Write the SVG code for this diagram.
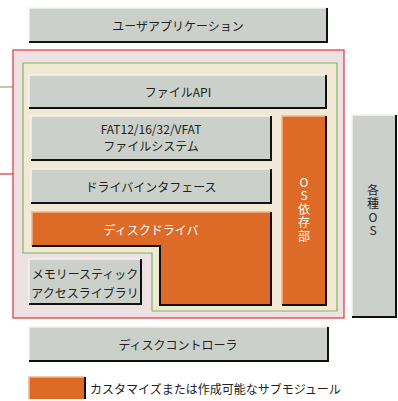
<svg xmlns="http://www.w3.org/2000/svg" width="398" height="401" viewBox="0 0 398 401">
<style>
text{font-family:"Noto Sans CJK JP","Noto Sans",sans-serif;font-size:12px;fill:#222;text-anchor:middle;dominant-baseline:central}
.w{fill:#fff}
.v{writing-mode:vertical-rl;text-orientation:upright;letter-spacing:1.5px}
.box{fill:#CCD0CA}
.org{fill:#DD6A26}
.hi{fill:none;stroke:#F2F2F0;stroke-width:1.5}
.hio{fill:none;stroke:#F2B58E;stroke-width:1.5}
.sh{fill:none;stroke:#111;stroke-width:2}
</style>
<rect width="398" height="401" fill="#fff"/>
<g id="connectors">
<line x1="0" y1="87" x2="23" y2="87" stroke="#7DB662" stroke-width="1.2"/>
<line x1="0" y1="174" x2="13" y2="174" stroke="#E0323C" stroke-width="1.2"/>
</g>
<g id="os-boundary">
<rect x="13" y="50" width="331" height="268" fill="#EFE1E3" stroke="#E0323C" stroke-width="1.2"/>
</g>
<g id="fs-boundary">
<path d="M23,63 H337 V311 H152 V253 H23 Z" fill="#F1E9D4" stroke="#7DB662" stroke-width="1.2"/>
</g>
<g id="user-app">
<rect class="box" x="29" y="8" width="298" height="34"/>
<path class="hi" d="M29,42 V8 H327"/>
<path class="sh" d="M29,42 H327 V8"/>
<text x="178" y="25">ユーザアプリケーション</text>
</g>
<g id="file-api">
<rect class="box" x="29" y="75" width="297" height="33"/>
<path class="hi" d="M29,108 V75 H326"/>
<path class="sh" d="M29,108 H326 V75"/>
<text x="178" y="91">ファイルAPI</text>
</g>
<g id="fat-fs">
<rect class="box" x="31" y="116" width="240" height="44"/>
<path class="hi" d="M31,160 V116 H271"/>
<path class="sh" d="M31,160 H271 V116"/>
<text x="151" y="128">FAT12/16/32/VFAT</text>
<text x="151" y="145">ファイルシステム</text>
</g>
<g id="driver-if">
<rect class="box" x="31" y="169" width="240" height="34"/>
<path class="hi" d="M31,203 V169 H271"/>
<path class="sh" d="M31,203 H271 V169"/>
<text x="151" y="186">ドライバインタフェース</text>
</g>
<g id="disk-driver">
<path class="org" d="M32,212 H271 V305 H160 V246 H32 Z"/>
<path class="hio" d="M32,246 V212 H271"/>
<path class="sh" d="M32,246 H160 V305 H271 V212"/>
<text class="w" x="151" y="229">ディスクドライバ</text>
</g>
<g id="os-dep">
<rect class="org" x="282" y="116" width="44" height="189"/>
<path class="hio" d="M282,305 V116 H326"/>
<path class="sh" d="M282,305 H326 V116"/>
<text class="w v" x="304" y="210">OS依存部</text>
</g>
<g id="various-os">
<rect class="box" x="352" y="115" width="44" height="202"/>
<path class="hi" d="M352,317 V115 H396"/>
<path class="sh" d="M352,317 H396 V115"/>
<text class="v" x="373" y="211">各種OS</text>
</g>
<g id="memory-stick">
<rect class="box" x="29" y="259" width="112" height="45"/>
<path class="hi" d="M29,304 V259 H141"/>
<path class="sh" d="M29,304 H141 V259"/>
<text x="85" y="273">メモリースティック</text>
<text x="85" y="292">アクセスライブラリ</text>
</g>
<g id="disk-controller">
<rect class="box" x="29" y="327" width="299" height="34"/>
<path class="hi" d="M29,361 V327 H328"/>
<path class="sh" d="M29,361 H328 V327"/>
<text x="178" y="344">ディスクコントローラ</text>
</g>
<g id="legend">
<rect class="org" x="29" y="377" width="56" height="22"/>
<path class="hio" d="M29,399 V377 H85"/>
<path class="sh" d="M85,377 V399"/>
<text x="90" y="388" style="text-anchor:start">カスタマイズまたは作成可能なサブモジュール</text>
</g>
</svg>
